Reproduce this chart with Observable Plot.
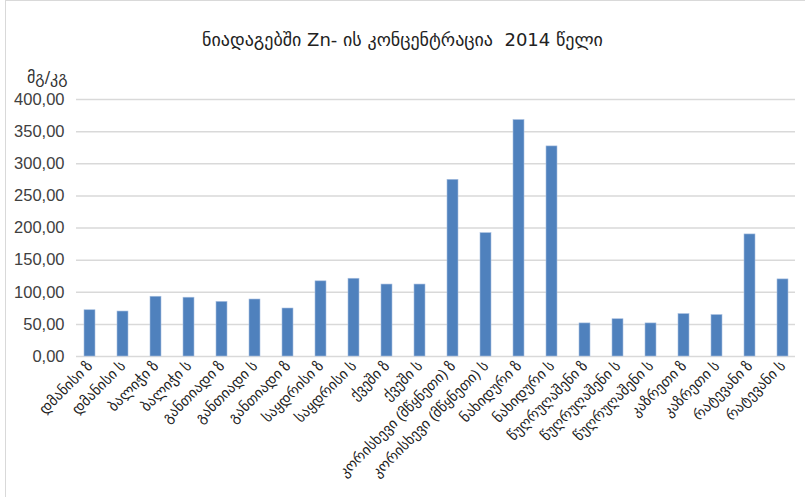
<!DOCTYPE html>
<html>
<head>
<meta charset="utf-8">
<script src="https://cdn.jsdelivr.net/npm/d3@7"></script>
<script src="https://cdn.jsdelivr.net/npm/@observablehq/plot@0.6"></script>
<style>
  html, body { margin: 0; padding: 0; background: #fff; }
  #wrap { position: relative; width: 805px; height: 497px; overflow: hidden; }
  #frame { position: absolute; left: 5px; top: 0; width: 820px; height: 520px; border: 1px solid #d9d9d9; box-sizing: border-box; pointer-events: none; }
  #title { position: absolute; left: 0; width: 805px; top: 29px; text-align: center; font: 18px "DejaVu Sans", sans-serif; color: #222; }
  #unit { position: absolute; left: 27px; top: 68px; font: 16px "DejaVu Sans", sans-serif; color: #333; }
  #chart { position: absolute; left: 0; top: 0; }
</style>
</head>
<body>
<div id="wrap">
  <div id="chart"></div>
  <div id="frame"></div>
  <div id="title">ნიადაგებში Zn- ის კონცენტრაცია&nbsp; 2014 წელი</div>
  <div id="unit">მგ/კგ</div>
</div>
<script>
const sites = [
  "დმანისი ზ", "დმანისი ს", "ბალიჭი ზ", "ბალიჭი ს", "განთიადი ზ", "განთიადი ს",
  "განთიადი ზ", "საყდრისი ზ", "საყდრისი ს", "ქვეში ზ", "ქვეში ს",
  "კორისხევი (მწყნეთი) ზ", "კორისხევი (მწყნეთი) ს", "ნახიდური ზ", "ნახიდური ს",
  "წუღრუღაშენი ზ", "წუღრუღაშენი ს", "წუღრუღაშენი ს", "კაზრეთი ზ", "კაზრეთი ს",
  "რატევანი ზ", "რატევანი ს"
];
const zn = [72, 70, 93, 91.5, 85, 88.7, 74.7, 117, 121, 112, 112,
            275, 192, 368, 327, 51.5, 58, 51.5, 66, 64.5, 190, 120];
const yTicks = [0, 50, 100, 150, 200, 250, 300, 350, 400];

const data = sites.map((s, i) => ({i, site: s, v: zn[i]}));
const fmt = v => d3.format(".2f")(v).replace(".", ",");

const chart = Plot.plot({
  width: 805,
  height: 497,
  marginTop: 99,
  marginBottom: 141,
  marginLeft: 76,
  marginRight: 10,
  style: {fontFamily: "'Liberation Sans', 'DejaVu Sans', sans-serif", background: "transparent"},
  x: {domain: d3.range(sites.length), paddingInner: 0.68, paddingOuter: 0.16, label: null},
  y: {domain: [0, 400], label: null},
  marks: [
    Plot.gridY(yTicks, {stroke: "#d9d9d9", strokeOpacity: 1, strokeWidth: 1.5}),
    Plot.axisY(yTicks, {tickSize: 0, tickPadding: 12, tickFormat: fmt, fontSize: 16.5, fill: "#404040", label: null}),
    Plot.barY(data, {x: "i", y: "v", fill: "#4f81bd", stroke: "#a7bfe0", strokeWidth: 0.6}),
    Plot.axisX({tickSize: 0, tickPadding: 7, tickRotate: -45, tickFormat: i => sites[i], fontSize: 14.5, fill: "#222", label: null})
  ]
});
document.getElementById("chart").appendChild(chart);
</script>
</body>
</html>
